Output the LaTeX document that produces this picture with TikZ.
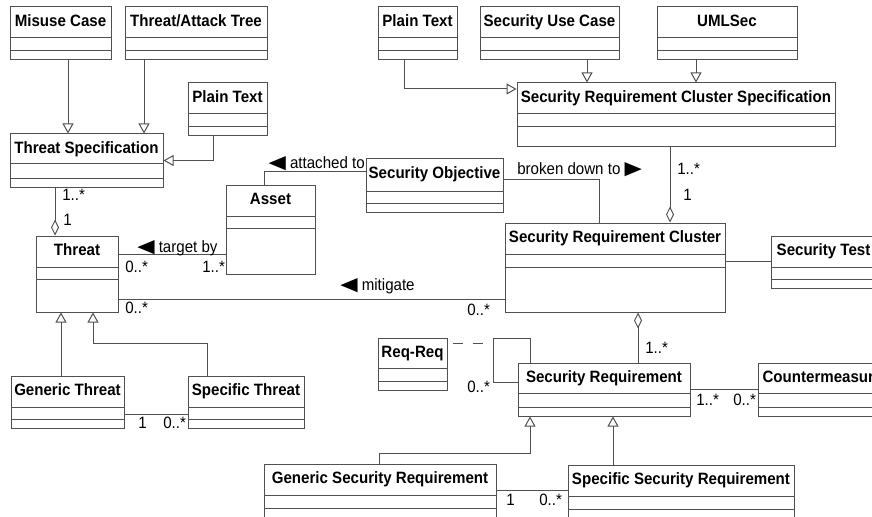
\documentclass[tikz,border=0pt]{standalone}
\usepackage{fontspec}
\usepackage{graphicx}
\setmainfont{Liberation Sans}[FakeStretch=0.92]
\newfontfamily\symfont{DejaVu Sans}
\usetikzlibrary{arrows.meta,fit,positioning}
\definecolor{linegray}{RGB}{80,80,80}
\newcommand{\diafont}{\fontsize{12.3}{14}\selectfont}
\newcommand{\ltri}{\resizebox{13pt}{9pt}{\symfont ◀}}
\newcommand{\rtri}{\resizebox{13pt}{9pt}{\symfont ▶}}
\tikzset{
  classbox/.style={draw=linegray, line width=0.75pt, inner sep=0pt},
  classname/.style={font=\diafont\bfseries, anchor=base, inner sep=0pt},
  mult/.style={font=\diafont, anchor=base west, inner sep=0pt},
  rolename/.style={font=\diafont, inner sep=0pt},
  link/.style={draw=linegray, line width=0.75pt},
  gen/.style={link, -{Triangle[open,length=7.5pt,width=8.25pt]}},
  aggr/.style={link, -{Diamond[open,length=12pt,width=6pt]}},
}
% name, x1, y1, x2, y2, divider 1, divider 2, title
\newcommand{\umlclass}[8]{%
  \node[classbox, fit={(#2,#3) (#4,#5)}] (#1) {};
  \draw[link] (#2,#6) -- (#4,#6) (#2,#7) -- (#4,#7);
  \node[classname] (#1-name) at ({(#2+#4)/2},#3+19.5) {#8};
}

\begin{document}
\begin{tikzpicture}[x=0.75pt, y=-0.75pt]
    \useasboundingbox (0,0) rectangle (872,517);
    \clip (0,0) rectangle (872,517);

    % threat side
    \umlclass{misuse}{10}{7}{111}{60}{38}{51}{Misuse Case}
    \umlclass{tree}{125}{7}{267}{60}{38}{51}{Threat/Attack Tree}
    \umlclass{ptextA}{188}{83}{267}{136}{114}{127}{Plain Text}
    \umlclass{tspec}{10}{134}{163}{187}{164}{178}{Threat Specification}
    \umlclass{threat}{36}{236}{118}{312}{267}{279}{Threat}
    \umlclass{gthreat}{11}{376}{124}{428}{407}{419}{Generic Threat}
    \umlclass{sthreat}{188}{376}{304}{428}{407}{419}{Specific Threat}
    \umlclass{asset}{226}{185}{315}{274}{216}{228}{Asset}
    \umlclass{secobj}{366}{159}{503}{212}{191}{203}{Security Objective}

    % requirement side
    \umlclass{ptextB}{378}{7}{457}{60}{38}{51}{Plain Text}
    \umlclass{secuse}{480}{7}{619}{60}{38}{51}{Security Use Case}
    \umlclass{umlsec}{657}{7}{797}{60}{38}{51}{UMLSec}
    \umlclass{srcs}{517}{83}{835}{147}{114}{127}{Security Requirement Cluster Specification}
    \umlclass{src}{505}{223}{725}{312}{254}{267}{Security Requirement Cluster}
    \umlclass{sectest}{771}{236}{876}{288}{267}{279}{Security Test}
    \umlclass{reqreq}{378}{338}{447}{390}{368}{381}{Req-Req}
    \umlclass{secreq}{518}{363}{690}{416}{393}{407}{Security Requirement}
    \umlclass{counter}{758}{363}{887}{416}{393}{407}{Countermeasure}
    \umlclass{gsecreq}{264}{464}{496}{521}{495}{508}{Generic Security Requirement}
    \umlclass{ssecreq}{568}{465}{794}{521}{496}{509}{Specific Security Requirement}

    % generalizations
    \draw[gen] (68,0 |- misuse.south) -- (68,0 |- tspec.north);
    \draw[gen] (144,0 |- tree.south) -- (144,0 |- tspec.north);
    \draw[gen] (213,0 |- ptextA.south) |- (tspec.east);
    \draw[gen] (404,0 |- ptextB.south) |- (srcs.west |- 0,89);
    \draw[gen] (587,0 |- secuse.south) -- (587,0 |- srcs.north);
    \draw[gen] (696,0 |- umlsec.south) -- (696,0 |- srcs.north);
    \draw[gen] (61,0 |- gthreat.north) -- (61,0 |- threat.south);
    \draw[gen] (207,0 |- sthreat.north) -- (207,343) -| (93,0 |- threat.south);
    \draw[gen] (379,0 |- gsecreq.north) |- (530,453) -- (530,0 |- secreq.south);
    \draw[gen] (613,0 |- ssecreq.north) -- (613,0 |- secreq.south);

    % aggregations
    \draw[aggr] (55,0 |- tspec.south) -- (55,0 |- threat.north);
    \node[mult] (m-ts1) at (62,200) {1..*};
    \node[mult] (m-ts2) at (63,225) {1};
    \draw[aggr] (670,0 |- srcs.south) -- (670,0 |- src.north);
    \node[mult] (m-cs1) at (677,175) {1..*};
    \node[mult] (m-cs2) at (683,200) {1};
    \draw[aggr] (638,0 |- secreq.north) -- (638,0 |- src.south);
    \node[mult] (m-rc) at (645,353) {1..*};

    % associations
    \draw[link] (secobj.west |- 0,172) -| (264,0 |- asset.north);
    \node[rolename, anchor=base east] (attached) at (365,168) {\ltri\ attached to};
    \draw[link] (secobj.east |- 0,179) -| (599,0 |- src.north);
    \node[rolename, anchor=base west] (broken) at (517,175) {broken down to \rtri};
    \draw[link] (threat.east |- 0,254) -- (asset.west |- 0,254);
    \node[rolename, anchor=base west] (target) at (137,252) {\ltri\ target by};
    \node[mult] (m-ta1) at (125,272) {0..*};
    \node[mult] (m-ta2) at (202,272) {1..*};
    \draw[link] (threat.east |- 0,299) -- (src.west |- 0,299);
    \node[rolename, anchor=base west] (mitigate) at (340,290) {\ltri\ mitigate};
    \node[mult] (m-mi1) at (125,313) {0..*};
    \node[mult] (m-mi2) at (467,315) {0..*};
    \draw[link] (gthreat.east |- 0,414) -- (sthreat.west |- 0,414);
    \node[mult] (m-gs1) at (138,428) {1};
    \node[mult] (m-gs2) at (163,428) {0..*};
    \draw[link] (src.east |- 0,261) -- (sectest.west |- 0,261);
    \draw[link] (530,0 |- secreq.north) |- (493,338) |- (secreq.west |- 0,382);
    \node[mult] (m-rr) at (467,392) {0..*};
    \draw[link, dash pattern=on 7.5pt off 7.5pt, dash phase=11.25pt] (reqreq.east |- 0,343) -- (493,343);
    \draw[link] (secreq.east |- 0,389) -- (counter.west |- 0,389);
    \node[mult] (m-sc1) at (696,405) {1..*};
    \node[mult] (m-sc2) at (733,405) {0..*};
    \draw[link] (gsecreq.east |- 0,490) -- (ssecreq.west |- 0,490);
    \node[mult] (m-gr1) at (506,505) {1};
    \node[mult] (m-gr2) at (539,505) {0..*};
\end{tikzpicture}
\end{document}
